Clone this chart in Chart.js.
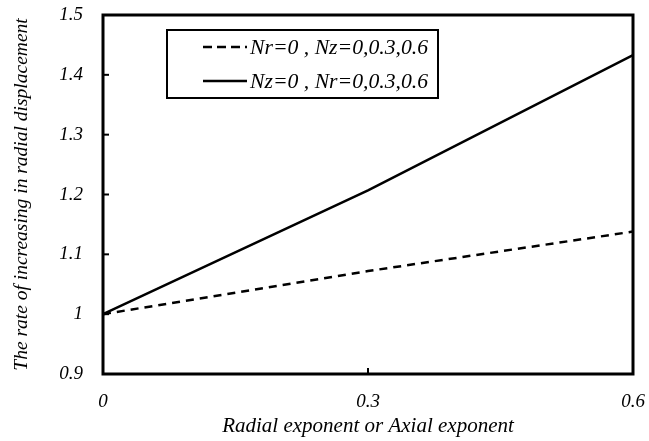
<!DOCTYPE html>
<html>
<head>
<meta charset="utf-8">
<script src="https://cdn.jsdelivr.net/npm/chart.js@4.4.1/dist/chart.umd.min.js"></script>
<style>
  html, body { margin: 0; padding: 0; background: #fff; }
  #wrap { width: 649px; height: 441px; }
</style>
</head>
<body>
<div id="wrap"><canvas id="c" width="649" height="441"></canvas></div>
<script>
// ---- data ----
const xValues = [0, 0.3, 0.6];
const seriesNr0 = [1.0, 1.072, 1.138];   // Nr=0 , Nz=0,0.3,0.6 (dashed)
const seriesNz0 = [1.0, 1.207, 1.433];   // Nz=0 , Nr=0,0.3,0.6 (solid)
const seriesLabels = ['Nr=0 , Nz=0,0.3,0.6', 'Nz=0 , Nr=0,0.3,0.6'];
const xTickLabels = { '0': '0', '0.3': '0.3', '0.6': '0.6' };
const yTickLabels = ['0.9', '1', '1.1', '1.2', '1.3', '1.4', '1.5'];
const xTitle = 'Radial exponent or Axial exponent';
const yTitle = 'The rate of increasing in radial displacement';

const FAMILY = "'Liberation Serif', 'Times New Roman', serif";

const framePlugin = {
  id: 'frame',
  afterDatasetsDraw(chart) {
    const { ctx, chartArea: a, scales } = chart;
    ctx.save();
    ctx.strokeStyle = '#000';
    // inward ticks
    ctx.lineWidth = 2;
    scales.y.ticks.forEach(t => {
      const y = scales.y.getPixelForValue(t.value);
      ctx.beginPath(); ctx.moveTo(a.left, y); ctx.lineTo(a.left + 6, y); ctx.stroke();
    });
    scales.x.ticks.forEach(t => {
      const x = scales.x.getPixelForValue(t.value);
      ctx.beginPath(); ctx.moveTo(x, a.bottom); ctx.lineTo(x, a.bottom - 6); ctx.stroke();
    });
    // frame
    ctx.lineWidth = 3;
    ctx.strokeRect(a.left, a.top, a.right - a.left, a.bottom - a.top);

    // legend box
    const bx = 167, by = 30, bw = 271, bh = 68;
    ctx.lineWidth = 2;
    ctx.strokeRect(bx, by, bw, bh);
    const rows = [47, 81];
    chart.data.datasets.forEach((ds, i) => {
      const y = rows[i];
      ctx.lineWidth = ds.borderWidth;
      ctx.setLineDash(ds.borderDash ? [9, 5] : []);
      ctx.beginPath(); ctx.moveTo(203, y); ctx.lineTo(247, y); ctx.stroke();
      ctx.setLineDash([]);
      ctx.fillStyle = '#000';
      ctx.font = 'italic 21.7px ' + FAMILY;
      ctx.textBaseline = 'middle';
      ctx.textAlign = 'left';
      ctx.fillText(ds.label, 250, y + 1);
    });
    ctx.restore();
  }
};

new Chart(document.getElementById('c'), {
  type: 'line',
  data: {
    datasets: [
      {
        label: seriesLabels[0],
        data: xValues.map((x, i) => ({ x, y: seriesNr0[i] })),
        borderColor: '#000', borderWidth: 2.5, borderDash: [8, 6],
        pointRadius: 0, fill: false, tension: 0
      },
      {
        label: seriesLabels[1],
        data: xValues.map((x, i) => ({ x, y: seriesNz0[i] })),
        borderColor: '#000', borderWidth: 2.5,
        pointRadius: 0, fill: false, tension: 0
      }
    ]
  },
  options: {
    responsive: false,
    animation: false,
    layout: { padding: { top: 15, right: 16, left: 0, bottom: 0 } },
    plugins: { legend: { display: false }, tooltip: { enabled: false } },
    scales: {
      x: {
        type: 'linear', min: 0, max: 0.6,
        afterFit(s) { s.height = 67; s.paddingLeft = 0; s.paddingRight = 0; },
        afterBuildTicks(s) { s.ticks = xValues.map(v => ({ value: v })); },
        grid: { display: false, drawTicks: false },
        border: { display: false },
        ticks: {
          padding: 17, color: '#000',
          font: { family: FAMILY, style: 'italic', size: 19 },
          maxRotation: 0, autoSkip: false,
          callback: v => xTickLabels[String(v)]
        },
        title: {
          display: true, text: xTitle, color: '#000',
          font: { family: FAMILY, style: 'italic', size: 21 },
          padding: { top: 0, bottom: 2 }
        }
      },
      y: {
        type: 'linear', min: 0.9, max: 1.5,
        afterFit(s) { s.width = 103; s.paddingTop = 0; s.paddingBottom = 0; },
        afterBuildTicks(s) { s.ticks = yTickLabels.map(l => ({ value: parseFloat(l) })); },
        grid: { display: false, drawTicks: false },
        border: { display: false },
        ticks: {
          padding: 20, color: '#000',
          font: { family: FAMILY, style: 'italic', size: 19 },
          autoSkip: false,
          callback: (v, i) => yTickLabels[i]
        },
        title: {
          display: true, text: yTitle, color: '#000',
          font: { family: FAMILY, style: 'italic', size: 19.5 },
          padding: { top: 10, bottom: 0 }
        }
      }
    }
  },
  plugins: [framePlugin]
});
</script>
</body>
</html>
